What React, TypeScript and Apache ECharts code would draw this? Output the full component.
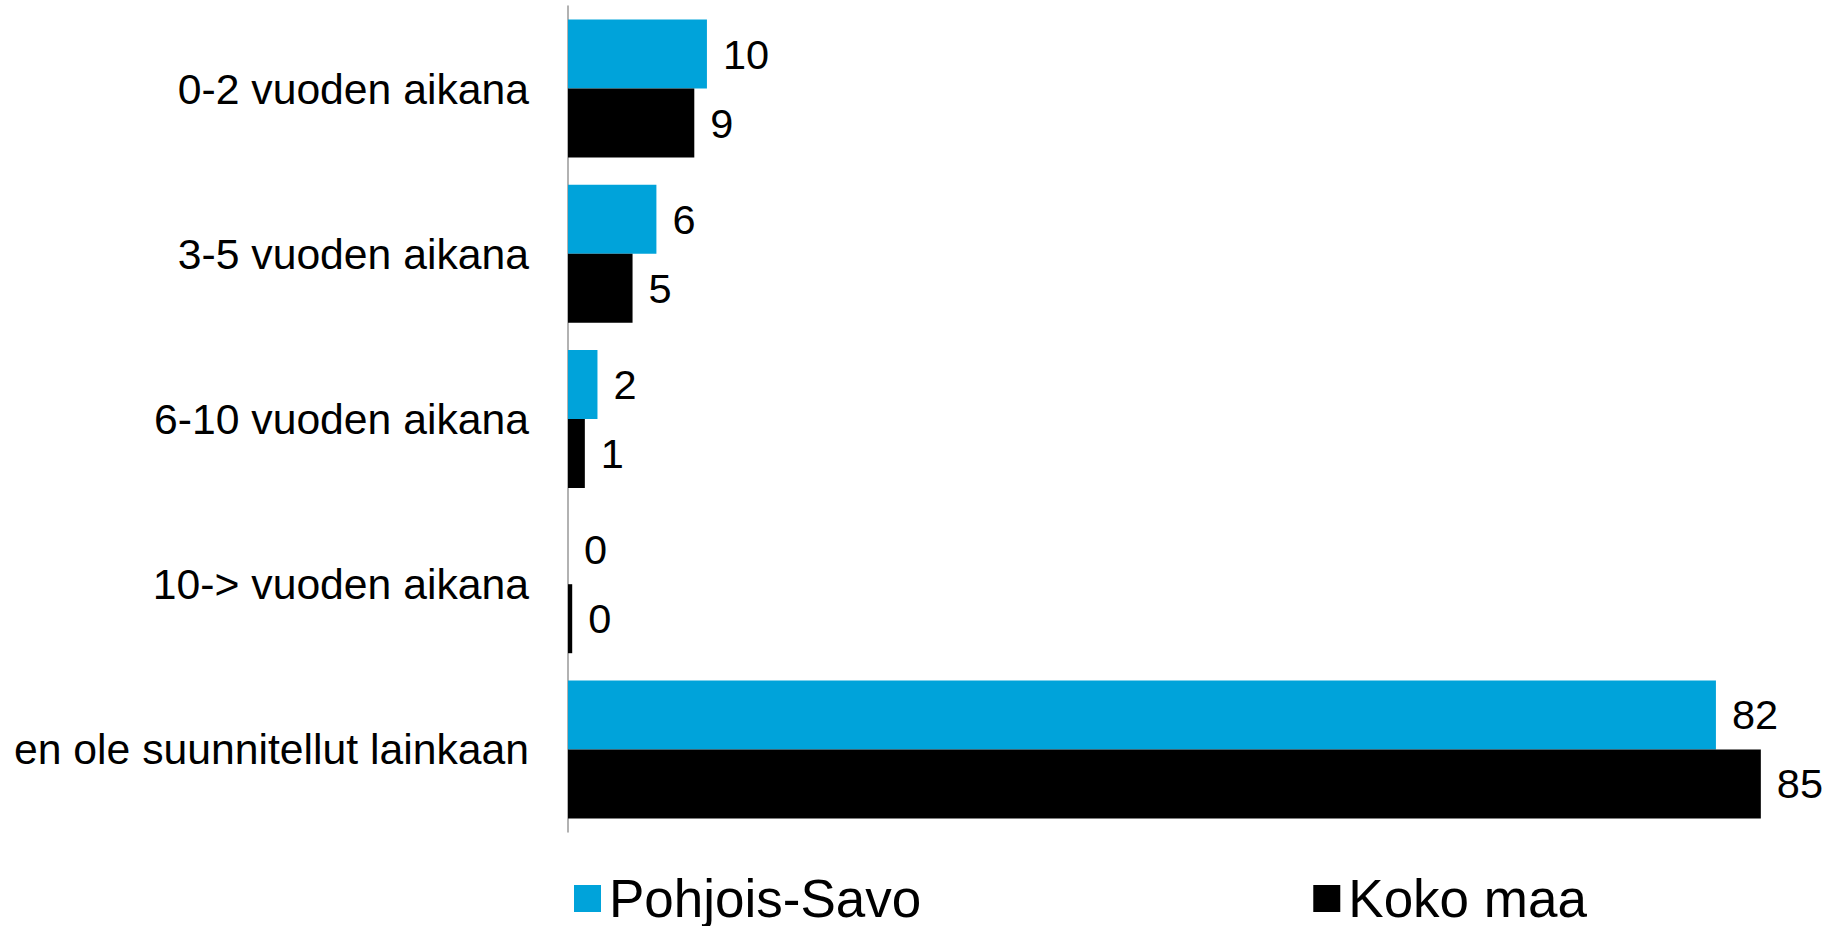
import React, { useEffect, useRef } from "react";
import * as echarts from "echarts";

const categories = [
  "0-2 vuoden aikana",
  "3-5 vuoden aikana",
  "6-10 vuoden aikana",
  "10-> vuoden aikana",
  "en ole suunnitellut lainkaan",
];
const seriesNames = ["Pohjois-Savo", "Koko maa"];
const pohjoisSavo = [9.9, 6.3, 2.1, 0, 81.8];
const kokoMaa = [9.0, 4.6, 1.2, 0.3, 85.0];

const FONT = "'Liberation Sans', Arial, sans-serif";

export default function App() {
  const ref = useRef<HTMLDivElement>(null);
  useEffect(() => {
    document.body.style.margin = "0";
    if (!ref.current) return;
    const chart = echarts.init(ref.current, undefined, { renderer: "svg" });
    const label = {
      show: true,
      position: "right",
      distance: 16,
      color: "#000",
      fontSize: 41.5,
      fontFamily: FONT,
      formatter: (p: any) => String(Math.round(p.value)),
    };
    chart.setOption({
      animation: false,
      backgroundColor: "#fff",
      grid: { left: 568, top: 6, width: 1263, height: 826, containLabel: false },
      legend: {
        data: seriesNames,
        left: 569,
        top: 867,
        icon: "rect",
        itemWidth: 27,
        itemHeight: 27,
        itemGap: 392,
        textStyle: { fontSize: 53, fontFamily: FONT, color: "#000", padding: [0, 0, 0, 3] },
      },
      xAxis: {
        type: "value",
        min: 0,
        max: 90,
        show: false,
        splitLine: { show: false },
      },
      yAxis: {
        type: "category",
        data: categories,
        inverse: true,
        axisLine: { show: true, lineStyle: { color: "#999", width: 1.5 } },
        axisTick: { show: false },
        axisLabel: {
          color: "#000",
          fontSize: 42.7,
          fontFamily: FONT,
          margin: 39,
        },
      },
      series: [
        {
          name: seriesNames[0],
          type: "bar",
          data: pohjoisSavo,
          barWidth: 69,
          barGap: "0%",
          itemStyle: { color: "#00A3DA" },
          label,
        },
        {
          name: seriesNames[1],
          type: "bar",
          data: kokoMaa,
          barWidth: 69,
          barGap: "0%",
          itemStyle: { color: "#000" },
          label,
        },
      ],
    });
    return () => chart.dispose();
  }, []);
  return <div ref={ref} style={{ width: 1832, height: 926 }} />;
}
